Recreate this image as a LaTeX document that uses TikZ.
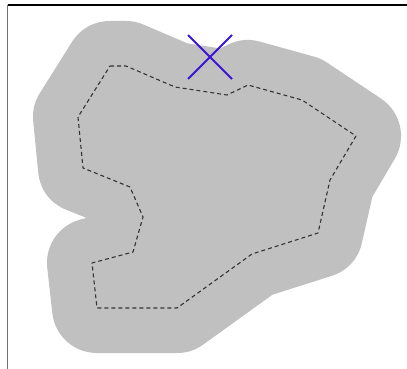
\documentclass[tikz,border=0pt]{standalone}
\begin{document}
\begin{tikzpicture}[x=1pt,y=-1pt,
  region/.style={draw=shade,fill=shade,line width=90pt,line join=round,line cap=round},
  outline/.style={draw=black!80,dashed,dash pattern=on 4pt off 3pt,line width=1.1pt,line join=round},
  cross/.style={draw=xblue,line width=1.8pt},
  frametop/.style={draw=black,line width=1.2pt},
  frameleft/.style={draw=black!55,line width=1.6pt}]
\definecolor{shade}{HTML}{C0C0C0}
\definecolor{xblue}{HTML}{3A14D8}
\useasboundingbox (0,0) rectangle (407,369);
\coordinate (p1) at (110,66);
\coordinate (p2) at (126,66);
\coordinate (p3) at (175,87);
\coordinate (p4) at (227,95);
\coordinate (p5) at (248,85);
\coordinate (p6) at (302,100);
\coordinate (p7) at (356,136);
\coordinate (p8) at (330,180);
\coordinate (p9) at (318,233);
\coordinate (p10) at (252,254);
\coordinate (p11) at (177,308);
\coordinate (p12) at (97,308);
\coordinate (p13) at (92,263);
\coordinate (p14) at (133,252);
\coordinate (p15) at (143,217);
\coordinate (p16) at (130,187);
\coordinate (p17) at (83,168);
\coordinate (p18) at (78,117);
\path[region] (p1) -- (p2) -- (p3) -- (p4) -- (p5) -- (p6) -- (p7) -- (p8) -- (p9) -- (p10) -- (p11) -- (p12) -- (p13) -- (p14) -- (p15) -- (p16) -- (p17) -- (p18) -- cycle;
\path[outline] (p1) -- (p2) -- (p3) -- (p4) -- (p5) -- (p6) -- (p7) -- (p8) -- (p9) -- (p10) -- (p11) -- (p12) -- (p13) -- (p14) -- (p15) -- (p16) -- (p17) -- (p18) -- cycle;
\coordinate (xa) at (188,35);
\coordinate (xb) at (232,79);
\coordinate (xc) at (232,35);
\coordinate (xd) at (188,79);
\draw[cross] (xa) -- (xb);
\draw[cross] (xc) -- (xd);
\coordinate (f1) at (7.5,5);
\coordinate (f2) at (407,5);
\coordinate (f3) at (7.5,369);
\draw[frametop] (f1) -- (f2);
\draw[frameleft] (f1) -- (f3);
\end{tikzpicture}
\end{document}
